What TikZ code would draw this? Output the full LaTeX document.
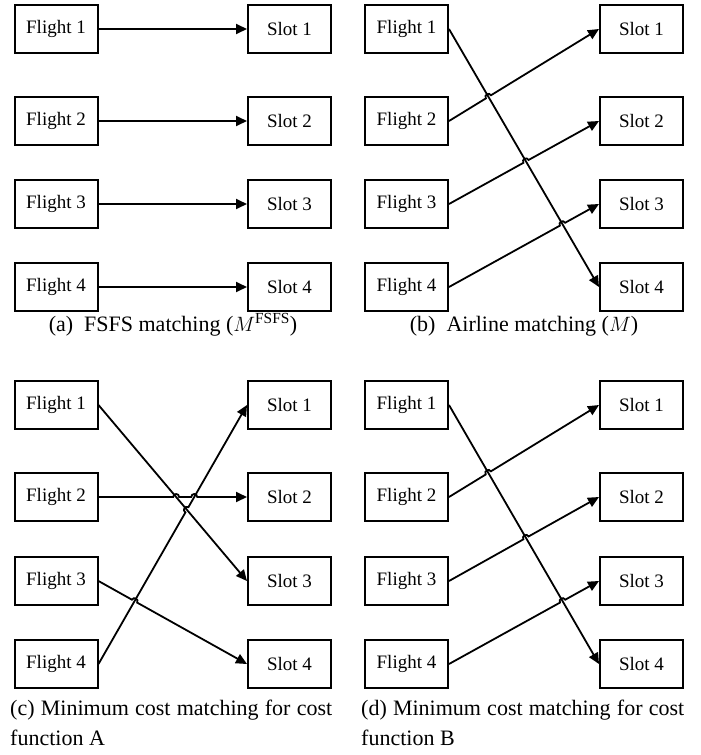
\documentclass[tikz,border=0pt]{standalone}
\usepackage{fontspec}
\setmainfont{Liberation Serif}
\usetikzlibrary{arrows.meta,calc,intersections}
\newcommand{\boxfont}{\fontsize{19}{22}\selectfont}
\newcommand{\capfont}{\fontsize{22}{30}\selectfont}
\tikzset{
  box/.style={draw, line width=2pt, minimum width=83pt, minimum height=48.5pt, inner sep=0pt, font=\boxfont},
  link/.style={line width=1.8pt, -{Triangle[length=11pt,width=10pt]}},
  hop/.style={bend left=90, looseness=1.7},
  captext/.style={inner sep=0pt, font=\capfont},
}
\begin{document}
\begin{tikzpicture}[x=1pt,y=-1pt]
\useasboundingbox (0,0) rectangle (701,755);
% ---------- node positions ----------
\foreach \p/\fx/\sx/\ya/\yb/\yc/\yd in {a/56/289.5/29/121/204/287, b/406.5/641.5/29/121/204/287, c/56/289.5/405/497/581/664, d/406.5/641.5/405/497/581/664}{
  \node[box] (f\p1) at (\fx,\ya) {Flight 1};
  \node[box] (f\p2) at (\fx,\yb) {Flight 2};
  \node[box] (f\p3) at (\fx,\yc) {Flight 3};
  \node[box] (f\p4) at (\fx,\yd) {Flight 4};
  \node[box] (s\p1) at (\sx,\ya) {Slot 1};
  \node[box] (s\p2) at (\sx,\yb) {Slot 2};
  \node[box] (s\p3) at (\sx,\yc) {Slot 3};
  \node[box] (s\p4) at (\sx,\yd) {Slot 4};
}
% ---------- (a) ----------
\draw[link] (fa1.east) -- (sa1.west);
\draw[link] (fa2.east) -- (sa2.west);
\draw[link] (fa3.east) -- (sa3.west);
\draw[link] (fa4.east) -- (sa4.west);
% ---------- (b) and (d) ----------
\foreach \p in {b,d}{
  \path[name path=\p1] (f\p1.east) -- (s\p4.west);
  \path[name path=\p2] (f\p2.east) -- (s\p1.west);
  \path[name path=\p3] (f\p3.east) -- (s\p2.west);
  \path[name path=\p4] (f\p4.east) -- (s\p3.west);
  \path[name intersections={of=\p1 and \p2, by=x\p2}];
  \path[name intersections={of=\p1 and \p3, by=x\p3}];
  \path[name intersections={of=\p1 and \p4, by=x\p4}];
  \draw[link] (f\p1.east) -- (s\p4.west);
  \draw[link] (f\p2.east) -- ($(x\p2)!3pt!(f\p2.east)$) to[hop] ($(x\p2)!3pt!(s\p1.west)$) -- (s\p1.west);
  \draw[link] (f\p3.east) -- ($(x\p3)!3pt!(f\p3.east)$) to[hop] ($(x\p3)!3pt!(s\p2.west)$) -- (s\p2.west);
  \draw[link] (f\p4.east) -- ($(x\p4)!3pt!(f\p4.east)$) to[hop] ($(x\p4)!3pt!(s\p3.west)$) -- (s\p3.west);
}
% ---------- (c) ----------
\path[name path=c1] (fc1.east) -- (sc3.west);
\path[name path=c2] (fc2.east) -- (sc2.west);
\path[name path=c3] (fc3.east) -- (sc4.west);
\path[name path=c4] (fc4.east) -- (sc1.west);
\path[name intersections={of=c1 and c2, by=xc12}];
\path[name intersections={of=c1 and c4, by=xc14}];
\path[name intersections={of=c2 and c4, by=xc24}];
\path[name intersections={of=c3 and c4, by=xc34}];
\draw[link] (fc1.east) -- (sc3.west);
\draw[link] (fc4.east) -- ($(xc14)!3pt!(fc4.east)$) to[hop] ($(xc14)!3pt!(sc1.west)$) -- (sc1.west);
\draw[link] (fc3.east) -- ($(xc34)!3pt!(fc3.east)$) to[hop] ($(xc34)!3pt!(sc4.west)$) -- (sc4.west);
\draw[link] (fc2.east) -- ($(xc12)!3pt!(fc2.east)$) to[hop] ($(xc12)!3pt!(sc2.west)$)
  -- ($(xc24)!3pt!(fc2.east)$) to[hop] ($(xc24)!3pt!(sc2.west)$) -- (sc2.west);
% ---------- captions ----------
\node[captext, anchor=base] (capa) at (173,331) {(a)\enspace FSFS matching ($M^{\mathrm{FSFS}}$)};
\node[captext, anchor=base] (capb) at (524,331) {(b)\enspace Airline matching ($M$)};
\node[captext, anchor=north west, align=left] (capc) at (10,700) {\makebox[322pt][s]{(c) Minimum cost matching for cost}\\function A};
\node[captext, anchor=north west, align=left] (capd) at (361,700) {\makebox[323pt][s]{(d) Minimum cost matching for cost}\\function B};
\end{tikzpicture}
\end{document}
